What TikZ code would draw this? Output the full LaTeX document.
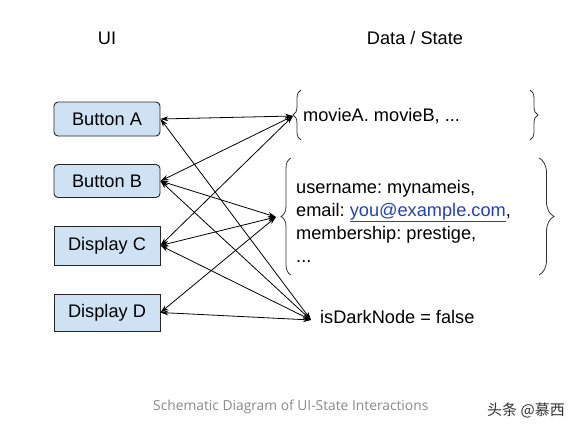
\documentclass[tikz,border=0pt]{standalone}
\usepackage{fontspec}
\setmainfont{Liberation Sans}
\newfontfamily\capfont{Open Sans}
\newfontfamily\cjk{Noto Sans CJK SC}
\usetikzlibrary{arrows.meta,decorations.pathreplacing}
\definecolor{boxfill}{HTML}{CFE2F3}
\definecolor{linkblue}{HTML}{2440B8}
\definecolor{capgray}{HTML}{8A8A8A}
\frenchspacing
\begin{document}
\begin{tikzpicture}[x=1pt,y=-1pt,
  big/.style={font=\fontsize{18.2}{23}\selectfont, inner sep=0pt},
  uibox/.style={draw=black!85, line width=0.9pt, fill=boxfill, minimum width=106pt, inner sep=0pt, font=\fontsize{18.2}{23}\selectfont},
  rbox/.style={uibox, rounded corners=4pt},
  link/.style={{Stealth[length=8pt,width=5pt]}-{Stealth[length=8pt,width=5pt]}, line width=0.8pt, black},
  brc/.style={draw=black!80, line width=0.8pt, decorate, decoration={brace, amplitude=#1}}
]
\useasboundingbox (0,0) rectangle (574,431);
\fill[white] (0,0) rectangle (574,431);

\node[big] (ui) at (107,38) {UI};
\node[big] (ds) at (415,38) {Data / State};

\node[rbox, minimum height=34pt] (A) at (107,119) {Button A};
\node[rbox, minimum height=33pt] (B) at (107,181) {Button B};
\node[uibox, minimum height=39pt] (C) at (107,245.5) {Display C};
\node[uibox, minimum height=37pt] (D) at (107,312.5) {Display D};

% braces
\draw[brc=8pt] (301,140) -- (301,90);
\draw[brc=8pt] (530,90) -- (530,140);
\draw[brc=10pt] (291,275) -- (291,158);
\draw[brc=15pt] (539,158) -- (539,275);

\node[big, anchor=west] (mv) at (303,116) {movieA. movieB, ...};
\node[big, anchor=north west, align=left] (us) at (296,180) {username: mynameis,\\ email: \textcolor{linkblue}{\underline{you@example.com}},\\ membership: prestige,\\ ...};
\node[big, anchor=west] (dk) at (320,317) {isDarkNode = false};

\coordinate (mvp) at (293,116);
\coordinate (usp) at (276,217);
\coordinate (dkp) at (311,320);

\draw[link] (A.east) -- (mvp);
\draw[link] (A.east) -- (dkp);
\draw[link] (B.east) -- (mvp);
\draw[link] (B.east) -- (usp);
\draw[link] (B.east) -- (dkp);
\draw[link] (C.east) -- (mvp);
\draw[link] (C.east) -- (usp);
\draw[link] (C.east) -- (dkp);
\draw[link] (D.east) -- (usp);
\draw[link] (D.east) -- (dkp);

\node[font=\capfont\fontsize{13.8}{16}\selectfont, text=capgray, anchor=west, inner sep=0pt] (cap) at (153,407) {Schematic Diagram of UI-State Interactions};
\node[font=\cjk\fontsize{15}{18}\selectfont, text=black!80, anchor=west, inner sep=0pt] (wm) at (487,410) {头条 @慕西};
\end{tikzpicture}
\end{document}
